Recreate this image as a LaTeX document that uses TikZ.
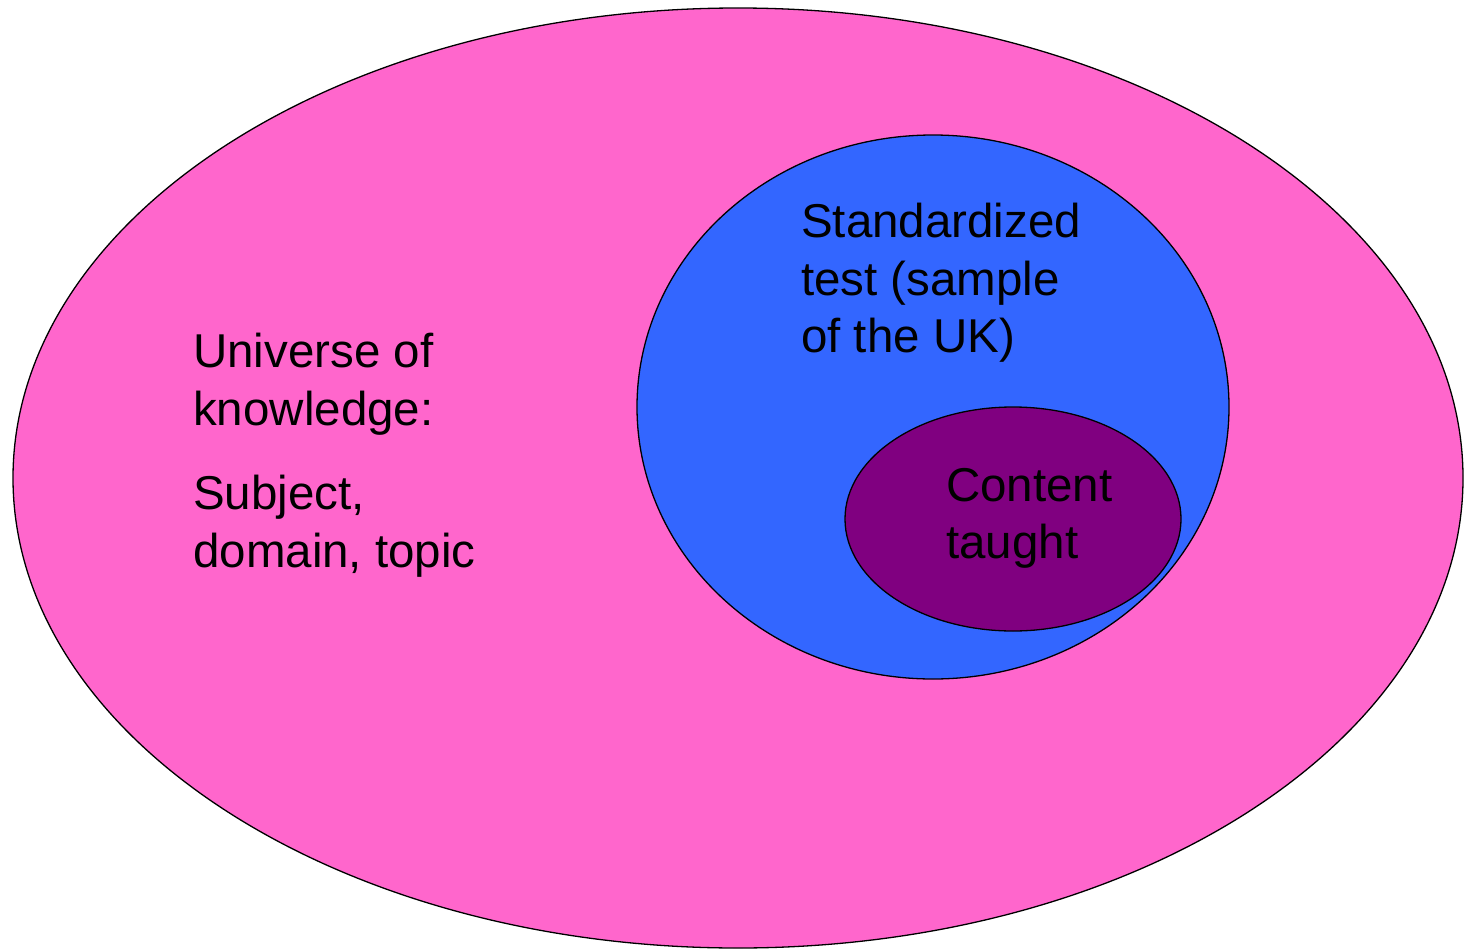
\documentclass[tikz,border=0pt]{standalone}
\usepackage{fontspec}
\setmainfont{Liberation Sans}
\definecolor{universe}{HTML}{FF66CC}
\definecolor{testblue}{HTML}{3366FF}
\definecolor{taughtpurple}{HTML}{800080}
\begin{document}
\begin{tikzpicture}[x=1pt,y=-1pt,
  region/.style={draw=black,line width=1.3pt},
  label/.style={inner sep=0pt,anchor=north west,align=left,
    font=\fontsize{47.5}{57.5}\selectfont}]
\useasboundingbox (0,0) rectangle (1464,950);
% nested sets
\path[region,fill=universe] (738,478) ellipse [x radius=725,y radius=470];
\path[region,fill=testblue] (933,407) ellipse [x radius=296,y radius=272];
\path[region,fill=taughtpurple] (1013,519) ellipse [x radius=168,y radius=112];
% labels
\node[label] (uni) at (193,333) {Universe of\\knowledge:\\[27pt]Subject,\\domain, topic};
\node[label] (std) at (801,203) {Standardized\\test (sample\\of the UK)};
\node[label] (cont) at (946,468) {Content\\taught};
\end{tikzpicture}
\end{document}
